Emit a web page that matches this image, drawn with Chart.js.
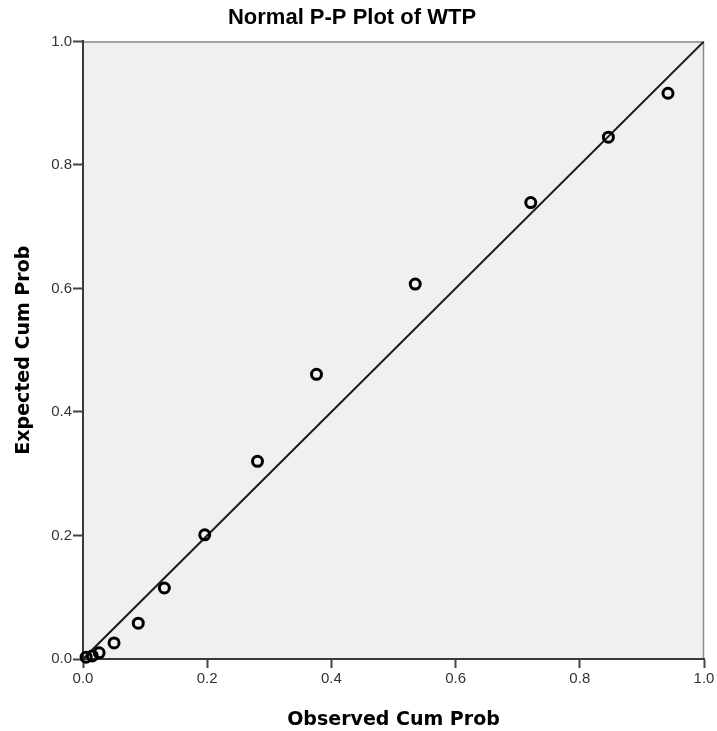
<!DOCTYPE html>
<html>
<head>
<meta charset="utf-8">
<script src="https://cdn.jsdelivr.net/npm/chart.js@4.4.1/dist/chart.umd.min.js"></script>
<style>
  html, body { margin: 0; padding: 0; background: #ffffff; }
  #wrap { width: 717px; height: 731px; }
</style>
</head>
<body>
<div id="wrap"><canvas id="c" width="717" height="731"></canvas></div>
<script>
const chartTitle = "Normal P-P Plot of WTP";
const xTitle = "Observed Cum Prob";
const yTitle = "Expected Cum Prob";
const observedCumProb = [0.005, 0.015, 0.026, 0.050, 0.089, 0.131, 0.196, 0.281, 0.376, 0.535, 0.721, 0.846, 0.942];
const expectedCumProb = [0.003, 0.005, 0.010, 0.026, 0.058, 0.115, 0.201, 0.320, 0.461, 0.607, 0.739, 0.845, 0.916];
const diagonalX = [0, 1];
const diagonalY = [0, 1];
const tickValues = [0.0, 0.2, 0.4, 0.6, 0.8, 1.0];

const points = observedCumProb.map((x, i) => ({ x: x, y: expectedCumProb[i] }));
const diag = diagonalX.map((x, i) => ({ x: x, y: diagonalY[i] }));

const bgPlugin = {
  id: 'plotBg',
  beforeDraw(chart) {
    const { ctx, chartArea: a } = chart;
    ctx.save();
    ctx.fillStyle = '#f0f0f0';
    ctx.fillRect(a.left, a.top, a.right - a.left, a.bottom - a.top);
    ctx.strokeStyle = '#8a8a8a';
    ctx.lineWidth = 1.5;
    ctx.beginPath();
    ctx.moveTo(a.left, a.top + 0.5);
    ctx.lineTo(a.right - 0.5, a.top + 0.5);
    ctx.lineTo(a.right - 0.5, a.bottom);
    ctx.stroke();
    ctx.restore();
  }
};

const tickCb = v => Number(v).toFixed(1);

new Chart(document.getElementById('c'), {
  type: 'scatter',
  data: {
    datasets: [
      {
        type: 'line',
        data: diag,
        borderColor: '#1a1a1a',
        borderWidth: 2,
        pointRadius: 0,
        showLine: true,
        fill: false,
        order: 2
      },
      {
        data: points,
        pointRadius: 5,
        pointBorderWidth: 3,
        pointBorderColor: '#000000',
        pointBackgroundColor: 'rgba(0,0,0,0)',
        clip: false,
        order: 1
      }
    ]
  },
  options: {
    responsive: false,
    animation: false,
    devicePixelRatio: 1,
    layout: { padding: { left: 0, right: 13, top: 0, bottom: 0 } },
    plugins: {
      legend: { display: false },
      tooltip: { enabled: false },
      title: {
        display: true,
        text: chartTitle,
        color: '#000000',
        font: { family: "'Liberation Sans', Arial, sans-serif", size: 22, weight: 'bold' },
        padding: { top: 5, bottom: 10 }
      }
    },
    scales: {
      x: {
        type: 'linear',
        min: 0, max: 1,
        afterFit(s) { s.height = 72; },
        afterBuildTicks(s) { s.ticks = tickValues.map(v => ({ value: v })); },
        ticks: { callback: tickCb, color: '#333333', padding: 2,
                 font: { family: "'Liberation Sans', Arial, sans-serif", size: 15 }, maxRotation: 0 },
        grid: { drawOnChartArea: false, drawTicks: true, tickLength: 9, tickColor: '#444444', tickWidth: 2 },
        border: { color: '#3a3a3a', width: 2 },
        title: { display: true, text: xTitle, color: '#000000',
                 font: { family: "'DejaVu Sans', sans-serif", size: 19, weight: 'bold' },
                 padding: { top: 12, bottom: 0 } }
      },
      y: {
        type: 'linear',
        min: 0, max: 1,
        afterFit(s) { s.width = 83; },
        afterBuildTicks(s) { s.ticks = tickValues.map(v => ({ value: v })); },
        ticks: { callback: tickCb, color: '#333333', padding: 1,
                 font: { family: "'Liberation Sans', Arial, sans-serif", size: 15 } },
        grid: { drawOnChartArea: false, drawTicks: true, tickLength: 10, tickColor: '#444444', tickWidth: 2 },
        border: { color: '#3a3a3a', width: 2 },
        title: { display: true, text: yTitle, color: '#000000',
                 font: { family: "'DejaVu Sans', sans-serif", size: 19, weight: 'bold' },
                 padding: { top: 13, bottom: 0 } }
      }
    }
  },
  plugins: [bgPlugin]
});
</script>
</body>
</html>
